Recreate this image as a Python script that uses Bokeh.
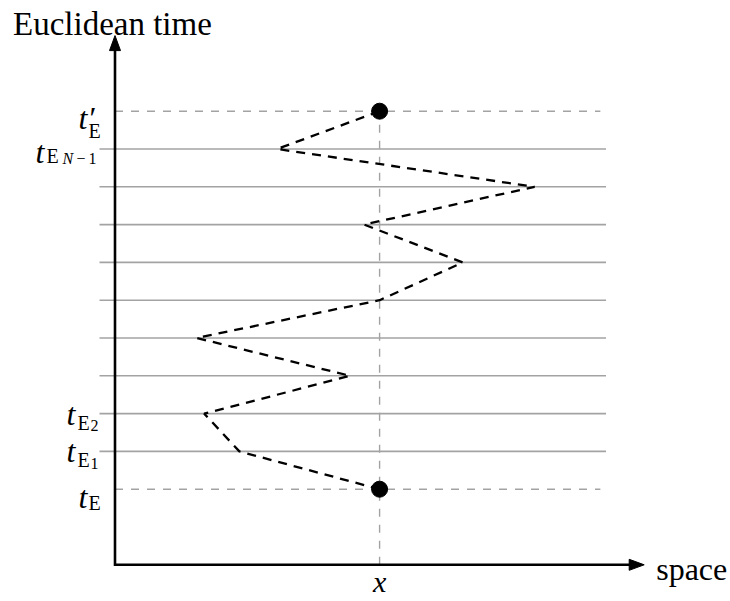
from bokeh.plotting import figure
from bokeh.models import Range1d
from bokeh.core.properties import value
from bokeh.embed import file_html
from bokeh.resources import INLINE

# --- data -------------------------------------------------------------
# time slices: 0 is t_E, 10 is t'_E, the ones between are t_E1 ... t_E(N-1)
levels = list(range(11))
# spatial position of the path at each time slice
path_x = [7.0, 3.29, 2.36, 6.22, 2.16, 7.0, 9.2, 6.59, 11.1, 4.29, 7.0]
x_point = 7.0            # fixed end point "x"
axis_origin = (0.0, -2.0)
axis_tip = (14.0, 12.0)  # ends of the space / time arrows
slice_span = (-0.41, 12.99)
end_span = (0.0, 12.84)

# --- geometry of the canvas ------------------------------------------
W, H = 730, 601
U = 37.8                  # pixels per unit
OX, OY = 114.5, 488.7     # where (0, 0) lands on the canvas


def px(v):
    """pixel length -> data units"""
    return v / U


p = figure(width=W, height=H, output_backend="svg", toolbar_location=None,
           x_range=Range1d(-OX / U, (W - OX) / U),
           y_range=Range1d(-(H - OY) / U, OY / U),
           min_border=0, outline_line_color=None, background_fill_color="white")
p.axis.visible = False
p.grid.visible = False

GREY = "#a3a3a3"

# intermediate time slices (solid grey)
mid = levels[1:-1]
p.multi_line(xs=[list(slice_span) for _ in mid], ys=[[l, l] for l in mid],
             line_color=GREY, line_width=1.6)
# first and last slice (dashed grey)
ends = [levels[0], levels[-1]]
p.multi_line(xs=[list(end_span) for _ in ends], ys=[[l, l] for l in ends],
             line_color=GREY, line_width=1.4, line_dash="8 8")
# vertical guide through x
p.line([x_point, x_point], [axis_origin[1], levels[-1]], line_color=GREY,
       line_width=1.4, line_dash="8 8")

# the zig-zag path
p.line(path_x, levels, line_color="black", line_width=2.3, line_dash="9 7")

# end points
p.scatter([x_point, x_point], [levels[0], levels[-1]], size=16,
          color="black")

# axes with arrow heads
head_len, head_half = px(15), px(5.5)
x0, y0 = axis_origin
xt, yt = axis_tip
p.line([x0, x0, xt - head_len * 0.8], [yt - head_len * 0.8, y0, y0],
       line_color="black", line_width=2.6, line_join="miter")
p.patch([x0, x0 - head_half, x0 + head_half],
        [yt, yt - head_len, yt - head_len], color="black")
p.patch([xt, xt - head_len, xt - head_len],
        [y0, y0 + head_half, y0 - head_half], color="black")

# --- labels --------------------------------------------------------------
SERIF = "Liberation Serif"
BIG, SUB, SUBSUB = "32px", "20px", "16px"


def label(x, y, text, size=BIG, style="normal", align="left",
          baseline="alphabetic"):
    p.text([x], [y], text=[text], text_font=value(SERIF),
           text_font_size=size, text_font_style=style,
           text_align=align, text_baseline=baseline, text_color="black")


# pieces placed relative to the axis (dx right, dy down, in pixels)
def at_level(level, dx, dy, text, size=BIG, style="normal"):
    label(x0 + px(dx), level + px(-dy), text, size, style)


def t_left(dx):
    return dx - OX


# t'_E
at_level(levels[-1], t_left(78), 7, "t\u2032", style="italic")
at_level(levels[-1], t_left(88), 20, "E", SUB)
# t_{E_{N-1}}
at_level(levels[-2], t_left(35), 2.5, "t", style="italic")
at_level(levels[-2], t_left(46), 6.5, "E", SUB)
at_level(levels[-2], t_left(62), 9.5, "N", SUBSUB, "italic")
at_level(levels[-2], t_left(76), 9.5, "\u2212", SUBSUB)
at_level(levels[-2], t_left(88), 9.5, "1", SUBSUB)
# t_{E_2}
at_level(levels[2], t_left(66), 0, "t", style="italic")
at_level(levels[2], t_left(77), 9, "E", SUB)
at_level(levels[2], t_left(90), 12, "2", SUBSUB)
# t_{E_1}
at_level(levels[1], t_left(66), 0, "t", style="italic")
at_level(levels[1], t_left(77), 9, "E", SUB)
at_level(levels[1], t_left(90), 12, "1", SUBSUB)
# t_E
at_level(levels[0], t_left(78), 8, "t", style="italic")
at_level(levels[0], t_left(88), 14, "E", SUB)

# axis titles
label(x_point, y0 - px(17), "x", size="30px", style="italic",
      align="center", baseline="middle")
label(xt + px(12), y0 - px(4), "space")
label(x0 - px(102), yt + px(12), "Euclidean time", size="33px")

open("out.html", "w").write(file_html(p, INLINE))
